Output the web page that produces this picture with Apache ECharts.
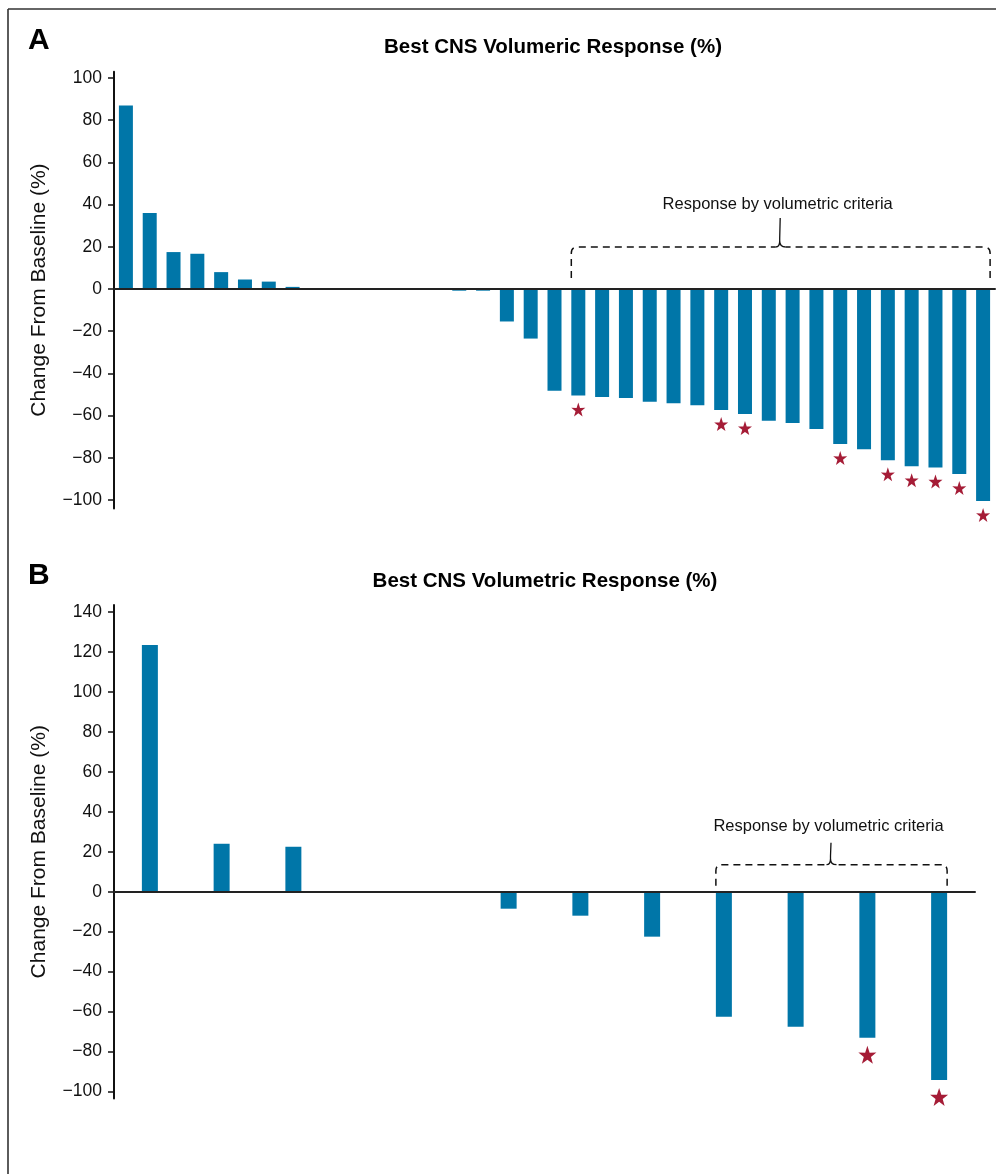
<!DOCTYPE html>
<html>
<head>
<meta charset="utf-8">
<script src="https://cdn.jsdelivr.net/npm/echarts@6/dist/echarts.min.js"></script>
<style>
  html, body { margin: 0; padding: 0; background: #fff; }
  #chart { width: 996px; height: 1174px; }
</style>
</head>
<body>
<div id="chart"></div>
<script>
// ---------- Data ----------
const titleA = 'Best CNS Volumeric Response (%)';
const titleB = 'Best CNS Volumetric Response (%)';
const yAxisName = 'Change From Baseline (%)';
const bracketLabel = 'Response by volumetric criteria';

const catsA = ['1','2','3','4','5','6','7','8','9','10','11','12','13','14','15','16','17','18','19','20',
               '21','22','23','24','25','26','27','28','29','30','31','32','33','34','35','36','37'];
const valuesA = [87, 36, 17.5, 16.7, 8, 4.5, 3.5, 1, 0, 0, 0, 0, 0, 0, -0.8, -0.8, -15.4, -23.5,
                 -48.2, -50.5, -51.2, -51.7, -53.4, -54.1, -55.1, -57.4, -59.3, -62.5, -63.5, -66.4,
                 -73.5, -76, -81.2, -84, -84.6, -87.7, -100.5];
const starIdxA = [19, 25, 26, 30, 32, 33, 34, 35, 36];
const bracketA = [19, 36];
const ticksA = [-100, -80, -60, -40, -20, 0, 20, 40, 60, 80, 100];

const catsB = ['1','2','3','4','5','6','7','8','9','10','11','12'];
const valuesB = [123.5, 24, 22.5, 0, 0, -8.5, -12, -22.5, -62.6, -67.6, -73.1, -94.2];
const starIdxB = [10, 11];
const bracketB = [8, 11];
const ticksB = [-100, -80, -60, -40, -20, 0, 20, 40, 60, 80, 100, 120, 140];

// ---------- Styles ----------
const BAR_COLOR = '#0076a8';
const STAR_COLOR = '#a51c36';
const INK = '#111';
const FONT = '"Liberation Sans", Arial, Helvetica, sans-serif';
const STAR = 'path://M50,0 L61.8,35.1 L98.1,34.5 L69,56.5 L79.4,91.3 L50,70.5 L20.6,91.3 L31,56.5 L1.9,34.5 L38.2,35.1 Z';

function makeBracket(barW, gBottom, gLine, gTip, gText) {
  return function (params, api) {
    const from = api.value(0), to = api.value(1);
    const p0 = api.coord([from, 0]);
    const p1 = api.coord([to, 0]);
    const L = p0[0] - barW / 2, R = p1[0] + barW / 2;
    const y0 = p0[1];
    const C = (L + R) / 2;
    const yb = y0 - gBottom, yl = y0 - gLine, yt = y0 - gTip;
    const r = 6;
    const d =
      'M' + L + ',' + yb + ' L' + L + ',' + (yl + r) + ' Q' + L + ',' + yl + ' ' + (L + r) + ',' + yl +
      ' L' + (C - 5) + ',' + yl +
      ' M' + R + ',' + yb + ' L' + R + ',' + (yl + r) + ' Q' + R + ',' + yl + ' ' + (R - r) + ',' + yl +
      ' L' + (C + 5) + ',' + yl;
    const tip =
      'M' + (C - 5) + ',' + yl + ' Q' + (C - 1) + ',' + yl + ' ' + (C - 1) + ',' + (yl - 6) +
      ' L' + (C - 1) + ',' + (yl - 9) + ' L' + (C - 0.5) + ',' + yt +
      ' M' + (C + 5) + ',' + yl + ' Q' + (C - 1) + ',' + yl + ' ' + (C - 1) + ',' + (yl - 6);
    return {
      type: 'group',
      children: [
        { type: 'path', shape: { pathData: d },
          style: { fill: null, stroke: INK, lineWidth: 1.5, lineDash: [7, 5] } },
        { type: 'path', shape: { pathData: tip },
          style: { fill: null, stroke: INK, lineWidth: 1.3 } },
        { type: 'text',
          style: { text: bracketLabel, x: C - 3, y: y0 - gText, align: 'center', verticalAlign: 'middle',
                   textAlign: 'center', textVerticalAlign: 'middle',
                   font: '16.5px ' + FONT, fill: INK } }
      ]
    };
  };
}

function yAxisCfg(gridIndex, min, max, ticks) {
  return {
    type: 'value', gridIndex, min, max,
    name: yAxisName, nameLocation: 'middle', nameGap: 64, nameRotate: 90,
    nameTextStyle: { fontSize: 21, fontFamily: FONT, color: INK },
    splitLine: { show: false },
    axisLine: { show: true, lineStyle: { color: INK, width: 2 } },
    axisTick: { show: true, length: 6, lineStyle: { color: INK, width: 1.5 }, customValues: ticks },
    axisLabel: { fontSize: 17.5, fontFamily: FONT, color: INK, margin: 12, customValues: ticks,
                 formatter: v => (v < 0 ? '\u2212' + Math.abs(v) : String(v)) }
  };
}

function xAxisCfg(gridIndex, cats) {
  return {
    type: 'category', gridIndex, data: cats, boundaryGap: true, z: 10,
    axisLine: { show: true, onZero: true, lineStyle: { color: '#222', width: 2 } },
    axisTick: { show: false }, axisLabel: { show: false }, splitLine: { show: false }
  };
}

const chart = echarts.init(document.getElementById('chart'), null, { renderer: 'canvas' });
chart.setOption({
  animation: false,
  backgroundColor: '#fff',
  grid: [
    { left: 114, right: 1, top: 71.7, height: 436.7 },
    { left: 114, right: 21, top: 605, height: 493.5 }
  ],
  xAxis: [xAxisCfg(0, catsA), xAxisCfg(1, catsB)],
  yAxis: [yAxisCfg(0, -104, 103, ticksA), yAxisCfg(1, -103.5, 143.5, ticksB)],
  graphic: [
    { type: 'line', shape: { x1: 8, y1: 9, x2: 996, y2: 9 }, style: { stroke: '#333', lineWidth: 1.6 } },
    { type: 'line', shape: { x1: 8, y1: 9, x2: 8, y2: 1174 }, style: { stroke: '#333', lineWidth: 1.6 } },
    { type: 'text', left: 28, top: 26, style: { text: 'A', font: 'bold 30px ' + FONT, fill: '#000' } },
    { type: 'text', left: 28, top: 561, style: { text: 'B', font: 'bold 30px ' + FONT, fill: '#000' } },
    { type: 'text', x: 553, y: 47, style: { text: titleA, font: 'bold 20.5px ' + FONT, fill: '#000',
      align: 'center', verticalAlign: 'middle', textAlign: 'center', textVerticalAlign: 'middle' } },
    { type: 'text', x: 545, y: 581, style: { text: titleB, font: 'bold 20.5px ' + FONT, fill: '#000',
      align: 'center', verticalAlign: 'middle', textAlign: 'center', textVerticalAlign: 'middle' } }
  ],
  series: [
    { type: 'bar', xAxisIndex: 0, yAxisIndex: 0, data: valuesA, barWidth: 14,
      itemStyle: { color: BAR_COLOR }, silent: true },
    { type: 'bar', xAxisIndex: 1, yAxisIndex: 1, data: valuesB, barWidth: 16,
      itemStyle: { color: BAR_COLOR }, silent: true },
    { type: 'scatter', xAxisIndex: 0, yAxisIndex: 0, symbol: STAR, symbolSize: 14, symbolOffset: [0, 14],
      itemStyle: { color: STAR_COLOR, opacity: 1 }, data: starIdxA.map(i => [i, valuesA[i]]), silent: true, z: 5 },
    { type: 'scatter', xAxisIndex: 1, yAxisIndex: 1, symbol: STAR, symbolSize: 18, symbolOffset: [0, 17],
      itemStyle: { color: STAR_COLOR, opacity: 1 }, data: starIdxB.map(i => [i, valuesB[i]]), silent: true, z: 5 },
    { type: 'custom', xAxisIndex: 0, yAxisIndex: 0, clip: false, silent: true,
      encode: { x: [0, 1], y: 2 }, data: [[bracketA[0], bracketA[1], 0]],
      renderItem: makeBracket(14, 11, 42, 71, 85) },
    { type: 'custom', xAxisIndex: 1, yAxisIndex: 1, clip: false, silent: true,
      encode: { x: [0, 1], y: 2 }, data: [[bracketB[0], bracketB[1], 0]],
      renderItem: makeBracket(16, 6, 27, 49, 65) }
  ]
});
</script>
</body>
</html>
